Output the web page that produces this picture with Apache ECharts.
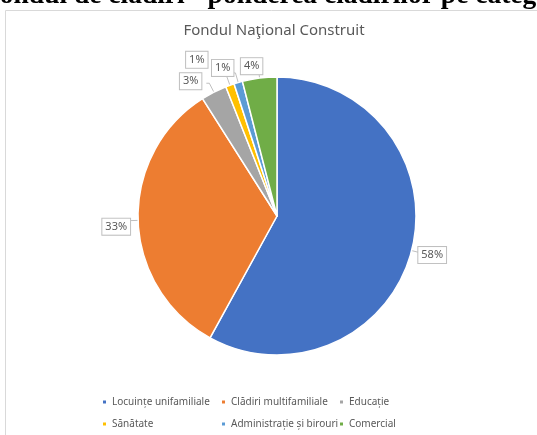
<!DOCTYPE html>
<html>
<head>
<meta charset="utf-8">
<script src="https://cdn.jsdelivr.net/npm/echarts@6/dist/echarts.min.js"></script>
<style>
  html, body { margin: 0; padding: 0; background: #fff; }
  #chart { width: 537px; height: 435px; }
</style>
</head>
<body>
<div id="chart"></div>
<script>
var categories = ["Locuințe unifamiliale", "Clădiri multifamiliale", "Educație", "Sănătate", "Administrație și birouri", "Comercial"];
var values = [58, 33, 3, 1, 1, 4];
var colors = ["#4472c4", "#ed7d31", "#a5a5a5", "#ffc000", "#5b9bd5", "#70ad47"];
// deplasarea etichetelor (stil callout ca in Excel)
var labelShift = [[-11, 2], [10, 6], [0, -2], [-11, -16], [6, -5], [12, -2]];

var chart = echarts.init(document.getElementById("chart"));

var legendBase = {
  orient: "vertical",
  top: 397,
  padding: 0,
  icon: "rect",
  itemWidth: 5,
  itemHeight: 5,
  itemGap: 12,
  textStyle: { fontSize: 10, color: "#595959", fontFamily: "Noto Sans" },
};

var options = {
  color: colors,
  textStyle: { fontFamily: "Noto Sans" },
  title: {
    text: "Fondul Naţional Construit",
    left: 269,
    textAlign: "center",
    top: 18,
    textStyle: { fontSize: 15, fontWeight: "normal", color: "#595959" },
  },
  legend: [
    Object.assign({}, legendBase, { left: 101, data: [categories[0], categories[3]] }),
    Object.assign({}, legendBase, { left: 220, data: [categories[1], categories[4]] }),
    Object.assign({}, legendBase, { left: 338, data: [categories[2], categories[5]] }),
  ],
  graphic: [
    {
      // chenarul graficului
      type: "rect",
      shape: { x: 5.5, y: 10.5, width: 600, height: 500 },
      style: { fill: "transparent", stroke: "#d9d9d9", lineWidth: 1 },
    },
    {
      // titlul documentului, taiat sus
      type: "text",
      x: -17,
      y: -18,
      style: {
        text: "Fondul de clădiri - ponderea clădirilor pe categorii",
        font: 'bold 27.5px "Liberation Serif"',
        fill: "#000",
      },
    },
  ],
  series: [
    {
      type: "pie",
      center: [277, 216],
      radius: 139,
      startAngle: 90,
      avoidLabelOverlap: false,
      itemStyle: { borderColor: "#fff", borderWidth: 1.5 },
      label: {
        position: "outside",
        formatter: "{d}%",
        fontSize: 11,
        color: "#595959",
        backgroundColor: "#fff",
        borderColor: "#bfbfbf",
        borderWidth: 1,
        padding: [3, 3, 2, 3],
      },
      labelLine: {
        length: 10,
        length2: 3,
        lineStyle: { color: "#bfbfbf", width: 1 },
      },
      labelLayout: function (p) {
        var s = labelShift[p.dataIndex];
        return { dx: s[0], dy: s[1] };
      },
      emphasis: { disabled: true },
      data: categories.map(function (c, i) {
        return { name: c, value: values[i] };
      }),
    },
  ],
};

chart.setOption(options);
</script>
</body>
</html>
